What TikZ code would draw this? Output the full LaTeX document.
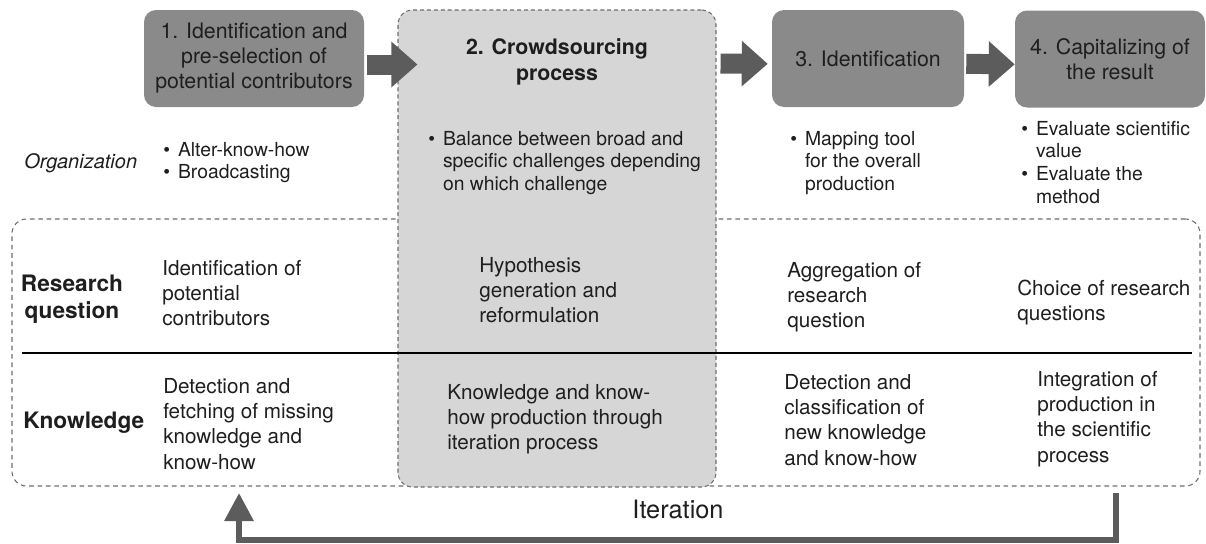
\documentclass[tikz,border=0pt]{standalone}
\usepackage{fontspec}
\setmainfont{TeX Gyre Heros}
\usetikzlibrary{arrows.meta}
\definecolor{boxgray}{HTML}{8A8A8A}
\definecolor{lightbox}{HTML}{D6D6D6}
\definecolor{arrowgray}{HTML}{5C5C5C}
\definecolor{dashgray}{HTML}{6E6E6E}
\definecolor{txt}{HTML}{1E1E1E}
\newcommand{\tl}[1]{\begin{tabular}[t]{@{}l@{}}#1\end{tabular}}
\newcommand{\bul}[1]{\begin{tabular}[t]{@{}l@{\hspace{6pt}}l@{}}#1\end{tabular}}
\begin{document}
\begin{tikzpicture}[x=0.75pt,y=-0.75pt,
  every node/.style={inner sep=0pt, text=txt},
  procbox/.style={fill=boxgray, rounded corners=9pt, align=center,
    minimum height=72.75pt, font=\fontsize{16}{18.75}\selectfont},
  crowdbox/.style={draw=dashgray, line width=0.8pt, dash pattern=on 3pt off 2.2pt,
    fill=lightbox, rounded corners=11pt},
  frame/.style={draw=dashgray, line width=0.8pt, dash pattern=on 3.5pt off 2.8pt,
    rounded corners=11pt},
  flowarrow/.style={draw=arrowgray, line width=15pt, -{Triangle[width=33pt,length=19.5pt]}},
  iterarrow/.style={draw=arrowgray, line width=4.5pt, line join=miter,
    -{Triangle[width=21pt,length=21pt]}},
  divider/.style={draw=black, line width=1.5pt},
  cell/.style={anchor=base west, font=\fontsize{15.5}{19}\selectfont},
  bullets/.style={anchor=base west, font=\fontsize{14.5}{17}\selectfont},
  rowlabel/.style={font=\fontsize{17}{20}\selectfont\bfseries, align=center},
]
\useasboundingbox (0,0) rectangle (1206,543);

% outer dashed frame
\node[frame, minimum width=891pt, minimum height=200.25pt] (frame) at (606,352.5) {};

% crowdsourcing column
\node[crowdbox, minimum width=238.5pt, minimum height=357.75pt] (b2) at (557,248.5) {};
\node[font=\fontsize{16}{20}\selectfont\bfseries, align=center] (b2title) at (557,62)
  {2. Crowdsourcing\\process};

% divider between rows
\draw[divider] (22,353) -- (1192,353);

% process boxes
\node[procbox, minimum width=165pt] (b1) at (254,58.5)
  {1. Identification and\\pre-selection of\\potential contributors};
\node[procbox, minimum width=144pt] (b3) at (868,58.5) {3. Identification};
\node[procbox, minimum width=142.5pt] (b4) at (1110,59) {4. Capitalizing of\\the result};

% flow arrows
\draw[flowarrow] ([xshift=2.25pt,yshift=-4.5pt]b1.east) -- ([xshift=15pt,yshift=-4.5pt]b2.west |- b1.east);
\draw[flowarrow] ([xshift=3pt]b2.east |- b1.east) ++(0,5) coordinate (a2s) -- ([xshift=-3pt,yshift=-4pt]b3.west);
\draw[flowarrow] ([xshift=1.5pt,yshift=-4pt]b3.east) -- ([yshift=-4pt]b4.west);

% organization row
\node[anchor=base west, font=\fontsize{15}{18}\selectfont\itshape] (org) at (24,168) {Organization};
\node[bullets] (org1) at (163,156) {\bul{\textbullet & Alter-know-how\\ \textbullet & Broadcasting}};
\node[bullets] (org2) at (428,145) {\bul{\textbullet & Balance between broad and\\ & specific challenges depending\\ & on which challenge}};
\node[bullets] (org3) at (790,145) {\bul{\textbullet & Mapping tool\\ & for the overall\\ & production}};
\node[bullets] (org4) at (1021,135) {\bul{\textbullet & Evaluate scientific\\ & value\\ \textbullet & Evaluate the\\ & method}};

% row labels
\node[rowlabel] (rq) at (72,299) {Research\\question};
\node[rowlabel, anchor=base west] (kn) at (23,428) {Knowledge};

% research question row
\node[cell] (rq1) at (162,275) {\tl{Identification of\\potential\\contributors}};
\node[cell] (rq2) at (479,272) {\tl{Hypothesis\\generation and\\reformulation}};
\node[cell] (rq3) at (787,277) {\tl{Aggregation of\\research\\question}};
\node[cell] (rq4) at (1017,295) {\tl{Choice of research\\questions}};

% knowledge row
\node[cell] (kn1) at (163,393) {\tl{Detection and\\fetching of missing\\knowledge and\\know-how}};
\node[cell] (kn2) at (447,399) {\tl{Knowledge and know-\\how production through\\iteration process}};
\node[cell] (kn3) at (784,389) {\tl{Detection and\\classification of\\new knowledge\\and know-how}};
\node[cell] (kn4) at (1037,386) {\tl{Integration of\\production in\\the scientific\\process}};

% iteration loop
\coordinate (itstart) at (1115.5,493);
\coordinate (itend) at (239,493);
\draw[iterarrow] (itstart) -- ++(0,47) -| (itend);
\node[anchor=base, font=\fontsize{19}{22}\selectfont] (iter) at (678,518) {Iteration};
\end{tikzpicture}
\end{document}
